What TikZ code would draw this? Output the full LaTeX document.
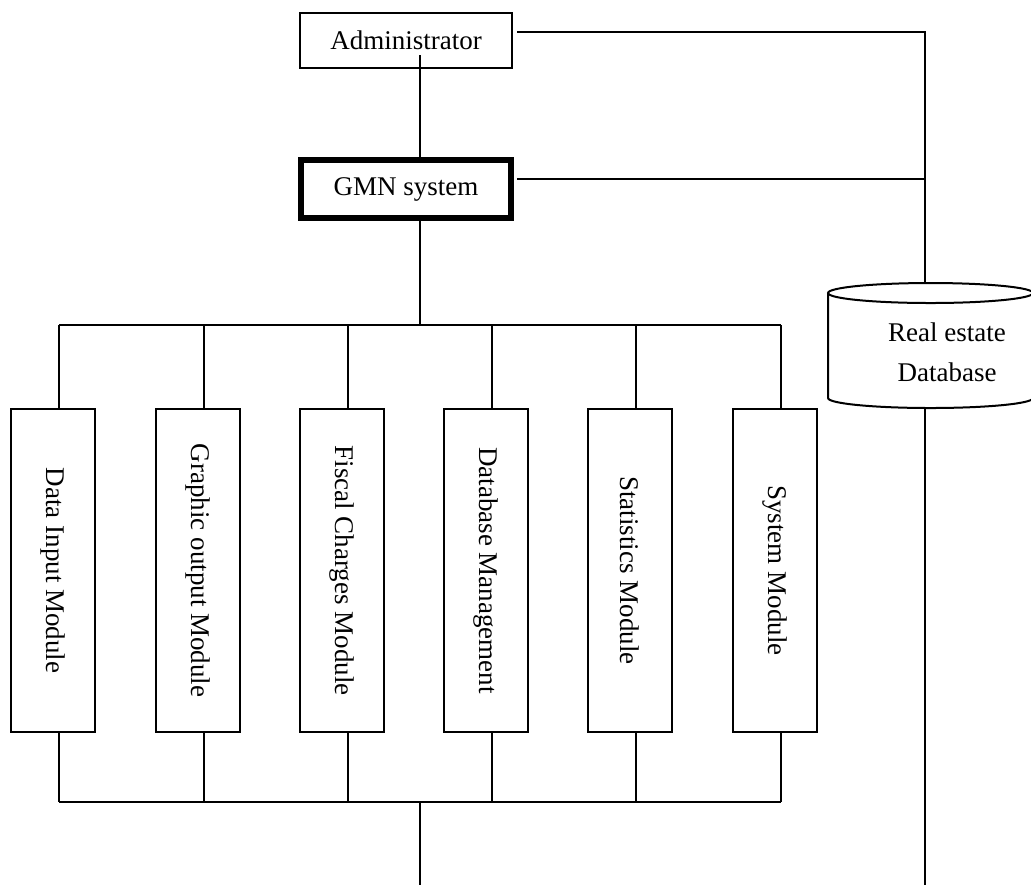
\documentclass[tikz,border=0pt]{standalone}
\usepackage{fontspec}
\setmainfont{Liberation Serif}
\usetikzlibrary{calc}
\tikzset{
  box/.style={draw, line width=1pt, inner sep=0pt, font=\fontsize{13.5}{20}\selectfont},
  mainbox/.style={box, line width=2.6pt},
  modbox/.style={box, minimum width=42pt, minimum height=161.5pt},
  wire/.style={line width=1pt},
}

\begin{document}
\begin{tikzpicture}[x=0.5pt, y=-0.5pt]
    \useasboundingbox (0,0) rectangle (1031,885);
    % top part
    \node[box, minimum width=106pt, minimum height=27.5pt] (admin) at (406,40.5) {Administrator};
    \node[mainbox, minimum width=105pt, minimum height=29pt] (gmn) at (406,189) {GMN system};
    % modules
    \node[modbox] (m1) at (53,570.5) {\rotatebox{-90}{Data Input Module}};
    \node[modbox] (m2) at (198,570.5) {\rotatebox{-90}{Graphic output Module}};
    \node[modbox] (m3) at (342,570.5) {\rotatebox{-90}{Fiscal Charges Module}};
    \node[modbox] (m4) at (486,570.5) {\rotatebox{-90}{Database Management}};
    \node[modbox] (m5) at (630,570.5) {\rotatebox{-90}{Statistics Module}};
    \node[modbox] (m6) at (774.5,570.5) {\rotatebox{-90}{System Module}};
    % database
    \draw[wire] (828,293) -- (828,398)
      arc[start angle=180, end angle=360, x radius=51.25pt, y radius=5pt] -- (1033,293);
    \draw[wire] (930.5,293) ellipse[x radius=51.25pt, y radius=5pt];
    \node[align=center, font=\fontsize{13.5}{20}\selectfont] (db) at (947,352) {Real estate\\Database};
    \coordinate (db-top) at (925,283);
    \coordinate (db-bot) at (925,408);
    \coordinate (adm-in) at (420,55);
    \coordinate (adm-out) at (517,32);
    \coordinate (gmn-out) at (517,179);
    \coordinate (hub-top) at (420,325);
    \coordinate (hub-bot) at (420,802);
    \coordinate (exit) at (420,885);
    \coordinate (db-exit) at (925,885);
    % connectors
    \draw[wire] (adm-in) -- (adm-in |- gmn.north);
    \draw[wire] (adm-in |- gmn.south) -- (hub-top);
    \draw[wire] (adm-out) -- (adm-out -| db-top) -- (db-top);
    \draw[wire] (gmn-out) -- (gmn-out -| db-top);
    \draw[wire] (db-bot) -- (db-exit);
    \draw[wire] ([xshift=3pt]m1.north |- hub-top) -- ([xshift=3pt]m6.north |- hub-top);
    \draw[wire] ([xshift=3pt]m1.south |- hub-bot) -- ([xshift=3pt]m6.south |- hub-bot);
    \foreach \m in {m1,m2,m3,m4,m5,m6} {
      \draw[wire] ([xshift=3pt]\m.north) -- ([xshift=3pt]\m.north |- hub-top);
      \draw[wire] ([xshift=3pt]\m.south) -- ([xshift=3pt]\m.south |- hub-bot);
    }
    \draw[wire] (hub-bot) -- (exit);
\end{tikzpicture}
\end{document}
